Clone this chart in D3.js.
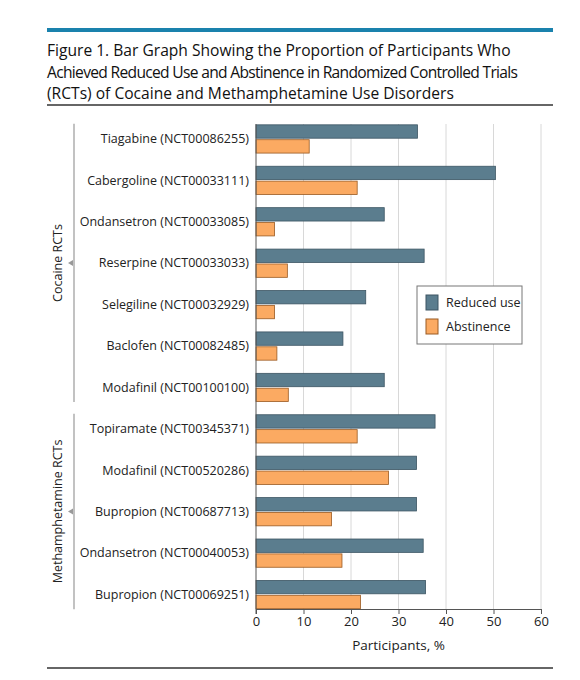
<!DOCTYPE html><html><head><meta charset="utf-8"><script src="https://cdn.jsdelivr.net/npm/d3@7"></script>
<style>body{margin:0;background:#fff}text{font-family:"Open Sans",sans-serif}</style></head><body><svg id="c" width="580" height="680"></svg>
<script>
const categories=["Tiagabine (NCT00086255)","Cabergoline (NCT00033111)","Ondansetron (NCT00033085)","Reserpine (NCT00033033)","Selegiline (NCT00032929)","Baclofen (NCT00082485)","Modafinil (NCT00100100)","Topiramate (NCT00345371)","Modafinil (NCT00520286)","Bupropion (NCT00687713)","Ondansetron (NCT00040053)","Bupropion (NCT00069251)"];
const reducedUse=[34.0,50.4,27.0,35.4,23.1,18.3,27.0,37.7,33.8,33.8,35.2,35.7];
const abstinence=[11.2,21.3,3.9,6.6,3.9,4.4,6.8,21.3,27.9,15.9,18.1,22.0];
const groups=[{name:"Cocaine RCTs",from:0,to:6},{name:"Methamphetamine RCTs",from:7,to:11}];
const xTicks=[0,10,20,30,40,50,60];
const titleLines=["Figure 1. Bar Graph Showing the Proportion of Participants Who","Achieved Reduced Use and Abstinence in Randomized Controlled Trials","(RCTs) of Cocaine and Methamphetamine Use Disorders"];
const svg=d3.select("#c");
svg.append("rect").attr("x",47).attr("y",28).attr("width",506).attr("height",4).attr("fill","#1a82ad");
svg.selectAll(".t").data(titleLines).enter().append("text").attr("x",47).attr("y",(d,i)=>56+i*21.5).attr("font-size",15.6).attr("fill","#111").attr("textLength",(d,i)=>i==1?471:null).text(d=>d);
svg.append("line").attr("x1",47).attr("x2",553).attr("y1",105).attr("y2",105).attr("stroke","#333").attr("stroke-width",1.5);
svg.append("line").attr("x1",47).attr("x2",553).attr("y1",668).attr("y2",668).attr("stroke","#333").attr("stroke-width",1.5);
const x=d3.scaleLinear().domain([0,60]).range([256,541]);
const y=d3.scaleBand().domain(categories).range([124,609]).paddingInner(0.33).paddingOuter(0.02);
const g=svg.append("g");
g.selectAll(".grid").data(xTicks.slice(1)).enter().append("line").attr("x1",d=>x(d)).attr("x2",d=>x(d)).attr("y1",124).attr("y2",609).attr("stroke","#d8d8d8");
const bh=y.bandwidth()/2;
g.selectAll(".r").data(categories).enter().append("rect").attr("x",x(0)).attr("y",d=>y(d)).attr("height",bh-0.5).attr("width",(d,i)=>x(reducedUse[i])-x(0)).attr("fill","#5b7d8e").attr("stroke","#3c5563").attr("stroke-width",0.8);
g.selectAll(".a").data(categories).enter().append("rect").attr("x",x(0)).attr("y",d=>y(d)+bh+1).attr("height",bh-0.5).attr("width",(d,i)=>x(abstinence[i])-x(0)).attr("fill","#fbaa62").attr("stroke","#9a5a22").attr("stroke-width",0.8);
const ax=svg.append("g").attr("transform","translate(0,609)").call(d3.axisBottom(x).tickValues(xTicks).tickSize(5).tickSizeOuter(0));
ax.selectAll("text").attr("font-size",13).attr("fill","#222").attr("font-family","Open Sans");
ax.selectAll("line,path").attr("stroke","#555");
svg.append("line").attr("x1",256).attr("x2",256).attr("y1",124).attr("y2",614).attr("stroke","#555");
svg.append("text").attr("x",x(30)).attr("y",650).attr("text-anchor","middle").attr("font-size",13.5).attr("fill","#222").text("Participants, %");
svg.selectAll(".lab").data(categories).enter().append("text").attr("x",249).attr("y",d=>y(d)+y.bandwidth()/2+4.5).attr("text-anchor","end").attr("font-size",12.5).attr("fill","#222").text(d=>d);
groups.forEach(gr=>{const y0=y(categories[gr.from])-1,y1=y(categories[gr.to])+y.bandwidth()+1,m=(y0+y1)/2;
svg.append("line").attr("x1",74).attr("x2",74).attr("y1",y0).attr("y2",y1).attr("stroke","#999").attr("stroke-width",1.2);
svg.append("path").attr("d",`M68,${m} L73,${m-3} L73,${m+3}Z`).attr("fill","#999");
svg.append("text").attr("transform",`translate(62,${m}) rotate(-90)`).attr("text-anchor","middle").attr("font-size",12.5).attr("fill","#222").text(gr.name);});
const lg=svg.append("g");
lg.append("rect").attr("x",417).attr("y",286).attr("width",105).attr("height",58).attr("fill","#fff").attr("stroke","#777");
[["Reduced use","#5b7d8e","#3c5563"],["Abstinence","#fbaa62","#9a5a22"]].forEach((d,i)=>{lg.append("rect").attr("x",426).attr("y",295+i*24).attr("width",12).attr("height",15).attr("fill",d[1]).attr("stroke",d[2]);
lg.append("text").attr("x",446).attr("y",307+i*24).attr("font-size",12.5).attr("fill","#222").text(d[0]);});
</script></body></html>
